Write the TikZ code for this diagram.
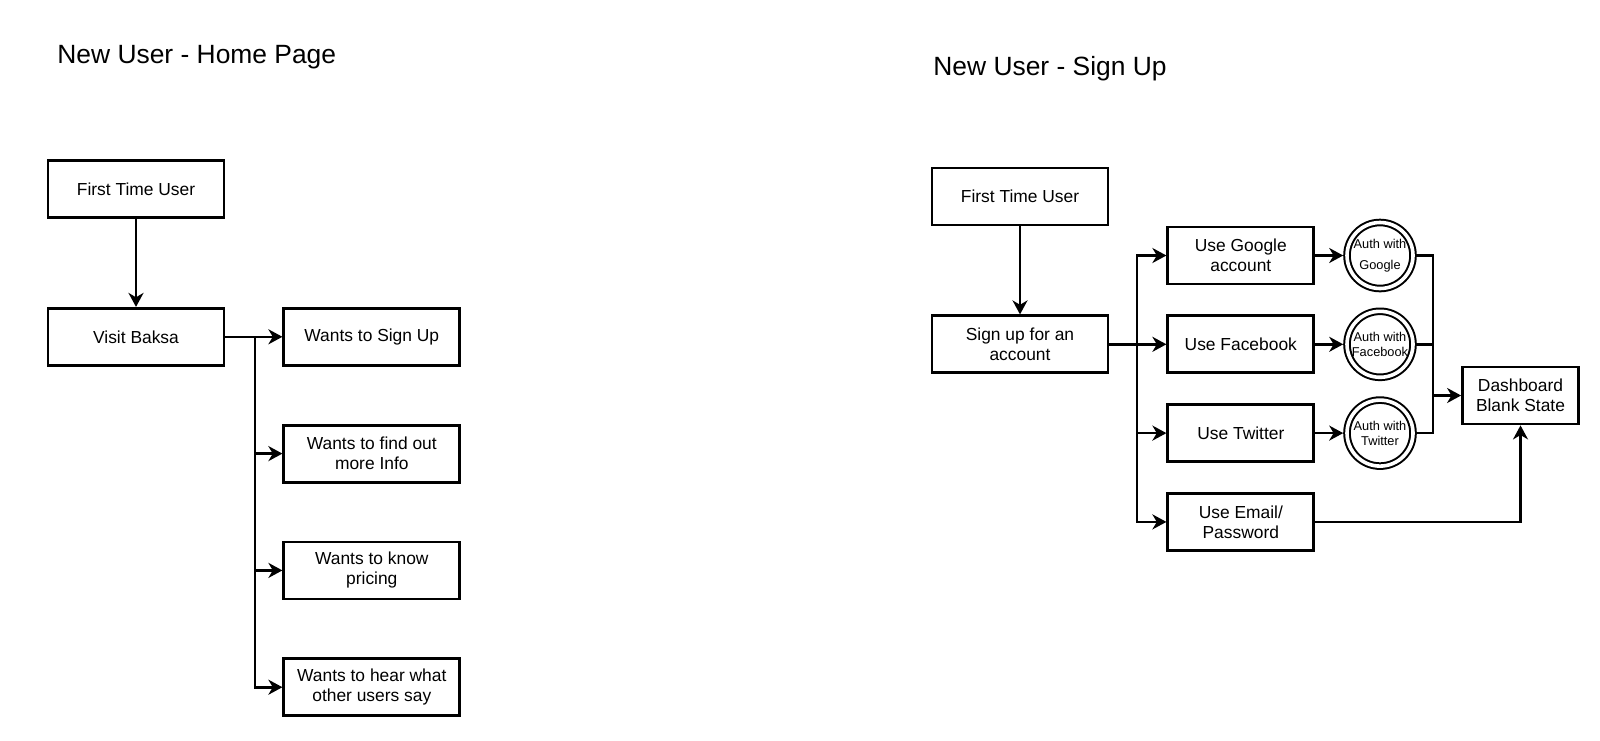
\documentclass[tikz,border=0pt]{standalone}
\usepackage{fontspec}
\setmainfont{Liberation Sans}
\usepackage{tikz}
\tikzset{
  box_font/.style = {font=\fontsize{8.7}{10}\selectfont},
  title_font/.style = {font=\fontsize{13.2}{15}\selectfont},
  auth_font/.style = {font=\fontsize{6.4}{7.4}\selectfont},
  box_lines/.style = {draw, line width=1.4pt}
}
\tikzset{
  title/.style = {title_font, inner sep=0, anchor=base west},
  box/.style = {box_font, box_lines, align=center, inner sep=1pt, minimum width=88pt, minimum height=28.5pt},
  opt_box/.style = {box, minimum width=73pt},
  end_box/.style = {box, minimum width=58pt},
  auth/.style = {auth_font, circle, draw, align=center, inner sep=0, minimum size=33pt,
    line width=1pt, double, double distance=1.8pt, outer sep=1.9pt},
  line/.style = {line width=1.3pt},
  link/.style = {line, -{Stealth[length=7pt, width=7.5pt, inset=2.2pt]}}
}
\usetikzlibrary{arrows.meta, positioning, calc}

\begin{document}
\begin{tikzpicture}[x=1pt, y=1pt]
    \useasboundingbox (0,0) rectangle (800,-370);

    % Home page
    \node[title] (home_title) at (28.5,-31.5) {New User - Home Page};
    \node[box] (home_first) at (68,-94.5) {First Time User};
    \node[box, below=44pt of home_first] (home_visit) {Visit Baksa};
    \node[box, right=28.5pt of home_visit] (want_signup) {Wants to Sign Up};
    \node[box, below=28.5pt of want_signup] (want_info) {Wants to find out\\more Info};
    \node[box, below=28.5pt of want_info] (want_pricing) {Wants to know\\pricing};
    \node[box, below=28.5pt of want_pricing] (want_others) {Wants to hear what\\other users say};
    \coordinate (home_split) at (127.5,0);

    % Sign up
    \node[title] (signup_title) at (466.5,-37.5) {New User - Sign Up};
    \node[box] (signup_first) at (510,-98.25) {First Time User};
    \node[box, below=44pt of signup_first] (signup_form) {Sign up for an\\account};
    \node[opt_box, right=28.5pt of signup_form] (use_facebook) {Use Facebook};
    \node[opt_box, above=14.5pt of use_facebook] (use_google) {Use Google\\account};
    \node[opt_box, below=14.5pt of use_facebook] (use_twitter) {Use Twitter};
    \node[opt_box, below=14.5pt of use_twitter] (use_email) {Use Email/\\Password};
    \coordinate (signup_split) at (568.5,0);

    % Auth
    \node[auth, right=14pt of use_google] (auth_google) {Auth with\\[3pt]Google};
    \node[auth, right=14pt of use_facebook] (auth_facebook) {Auth with\\Facebook};
    \node[auth, right=14pt of use_twitter] (auth_twitter) {Auth with\\Twitter};
    \coordinate (merge) at (716.5,0);
    \node[end_box] (dashboard) at (760.25,-197.75) {Dashboard\\Blank State};

    % Arrows and lines
    \draw[link] (home_first) -- (home_visit);
    \draw[link] (home_visit) -- (want_signup);
    \draw[link] (home_visit.east -| home_split) |- (want_info);
    \draw[link] (home_visit.east -| home_split) |- (want_pricing);
    \draw[link] (home_visit.east -| home_split) |- (want_others);

    \draw[link] (signup_first) -- (signup_form);
    \draw[link] (signup_form) -- (use_facebook);
    \draw[link] (signup_form.east -| signup_split) |- (use_google);
    \draw[link] (signup_form.east -| signup_split) |- (use_twitter);
    \draw[link] (signup_form.east -| signup_split) |- (use_email);

    \draw[link] (use_google) -- (auth_google);
    \draw[link] (use_facebook) -- (auth_facebook);
    \draw[link] (use_twitter) -- (auth_twitter);

    \draw[line] (auth_google) -| (merge |- auth_twitter) -- (auth_twitter);
    \draw[line] (auth_facebook) -- (auth_facebook -| merge);
    \draw[link] (dashboard.west -| merge) -- (dashboard);
    \draw[link] (use_email) -| (dashboard);
\end{tikzpicture}
\end{document}
